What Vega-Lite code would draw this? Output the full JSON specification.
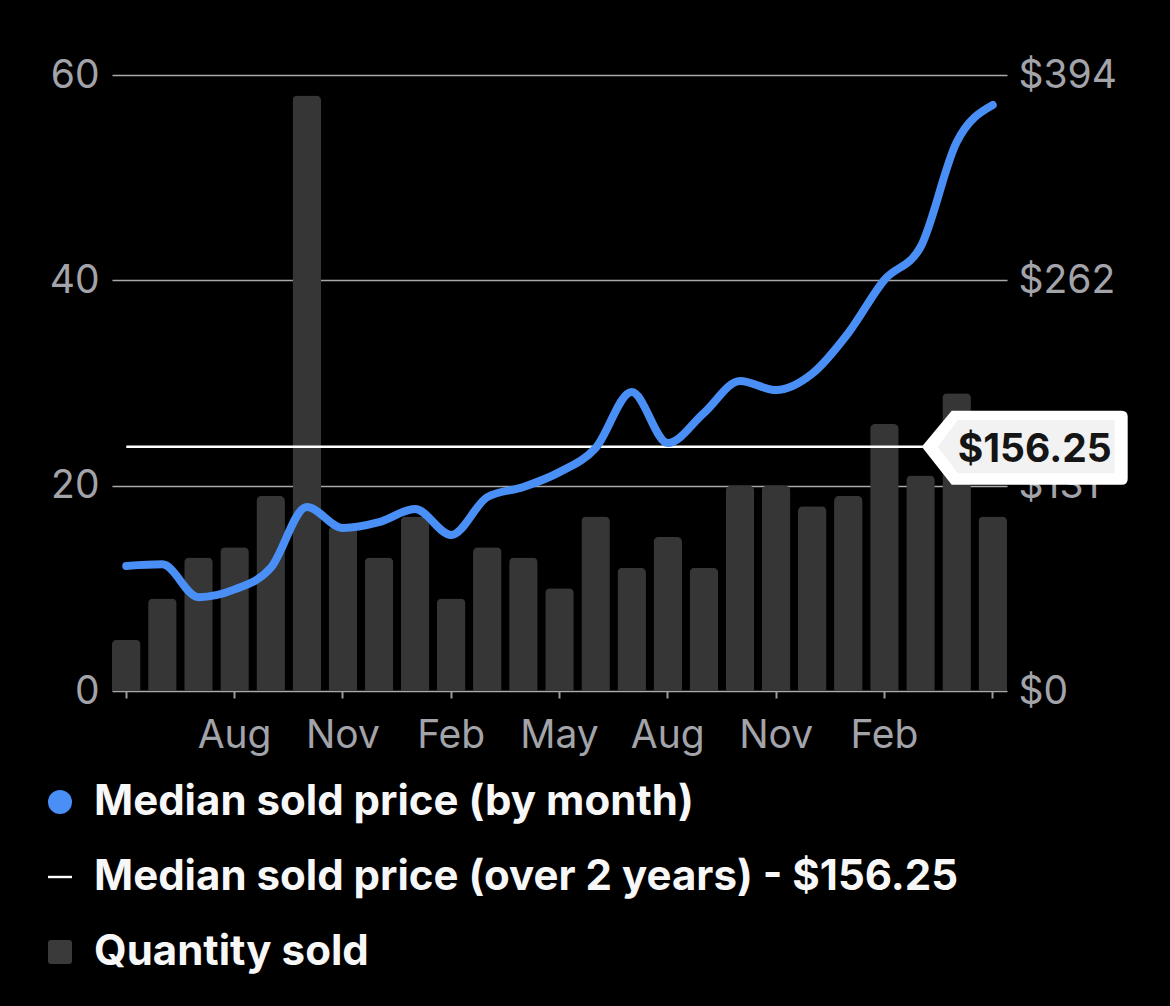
{
  "$schema": "https://vega.github.io/schema/vega-lite/v6.json",
  "autosize": "none",
  "width": 895,
  "height": 616,
  "padding": {"left": 112, "top": 75, "right": 163, "bottom": 315},
  "background": "#000000",
  "config": {"font": "Inter", "view": {"stroke": null}},
  "datasets": {
    "monthly": [
      {"month": "May 2022", "qty": 5, "price": 80},
      {"month": "Jun 2022", "qty": 9, "price": 81},
      {"month": "Jul 2022", "qty": 13, "price": 60},
      {"month": "Aug 2022", "qty": 14, "price": 65},
      {"month": "Sep 2022", "qty": 19, "price": 78.7},
      {"month": "Oct 2022", "qty": 58, "price": 117.7},
      {"month": "Nov 2022", "qty": 16, "price": 104.3},
      {"month": "Dec 2022", "qty": 13, "price": 108},
      {"month": "Jan 2023", "qty": 17, "price": 116.4},
      {"month": "Feb 2023", "qty": 9, "price": 99.8},
      {"month": "Mar 2023", "qty": 14, "price": 124},
      {"month": "Apr 2023", "qty": 13, "price": 130.5},
      {"month": "May 2023", "qty": 10, "price": 140},
      {"month": "Jun 2023", "qty": 17, "price": 155.4},
      {"month": "Jul 2023", "qty": 12, "price": 191.2},
      {"month": "Aug 2023", "qty": 15, "price": 158.6},
      {"month": "Sep 2023", "qty": 12, "price": 177.8},
      {"month": "Oct 2023", "qty": 20, "price": 198.3},
      {"month": "Nov 2023", "qty": 20, "price": 192.5},
      {"month": "Dec 2023", "qty": 18, "price": 203},
      {"month": "Jan 2024", "qty": 19, "price": 229},
      {"month": "Feb 2024", "qty": 26, "price": 263},
      {"month": "Mar 2024", "qty": 21, "price": 284},
      {"month": "Apr 2024", "qty": 29, "price": 351},
      {"month": "May 2024", "qty": 17, "price": 374.8}
    ],
    "overall": [
      {"month": "May 2024", "start": "May 2022", "end": "May 2024", "price": 156.25}
    ],
    "legend": [
      {"series": "Median sold price (by month)"},
      {"series": "Median sold price (over 2 years) - $156.25"},
      {"series": "Quantity sold"}
    ]
  },
  "layer": [
    {
      "data": {"name": "monthly"},
      "mark": {"type": "bar", "color": "#363636", "cornerRadiusTopLeft": 5, "cornerRadiusTopRight": 5},
      "encoding": {
        "x": {
          "field": "month", "type": "ordinal", "title": null,
          "scale": {
            "domain": ["May 2022","Jun 2022","Jul 2022","Aug 2022","Sep 2022","Oct 2022","Nov 2022","Dec 2022","Jan 2023","Feb 2023","Mar 2023","Apr 2023","May 2023","Jun 2023","Jul 2023","Aug 2023","Sep 2023","Oct 2023","Nov 2023","Dec 2023","Jan 2024","Feb 2024","Mar 2024","Apr 2024","May 2024"],
            "paddingInner": 0.21, "paddingOuter": 0
          },
          "axis": {
            "values": ["May 2022","Aug 2022","Nov 2022","Feb 2023","May 2023","Aug 2023","Nov 2023","Feb 2024","May 2024"],
            "labelExpr": "datum.value == 'May 2022' || datum.value == 'May 2024' ? '' : slice(datum.value, 0, 3)",
            "title": null, "domain": false, "grid": false,
            "ticks": true, "tickColor": "#9a9a9f", "tickSize": 7, "tickWidth": 2, "bandPosition": 0.5,
            "labelFontSize": 39, "labelColor": "#a3a3aa", "labelPadding": 18, "labelAngle": 0, "labelOverlap": false
          }
        },
        "y": {
          "field": "qty", "type": "quantitative", "title": null,
          "scale": {"domain": [0, 60], "nice": false},
          "axis": {
            "orient": "left", "values": [0, 20, 40, 60], "title": null, "domain": false, "ticks": false,
            "grid": true, "gridColor": "#a9a9ad", "gridWidth": 1.5,
            "labelFontSize": 39, "labelColor": "#a3a3aa", "labelPadding": 13
          }
        }
      }
    },
    {
      "layer": [
        {
          "data": {"name": "overall"},
          "mark": {"type": "rule", "color": "#ffffff", "strokeWidth": 2.5},
          "encoding": {
            "x": {"field": "start", "type": "ordinal", "title": null},
            "x2": {"field": "end"},
            "y": {"field": "price", "type": "quantitative", "title": null, "scale": {"domain": [0, 394], "nice": false}}
          }
        },
        {
          "data": {"name": "monthly"},
          "mark": {"type": "line", "color": "#4a8ff6", "strokeWidth": 8, "interpolate": "monotone", "strokeCap": "round"},
          "encoding": {
            "x": {"field": "month", "type": "ordinal", "title": null},
            "y": {
              "field": "price", "type": "quantitative", "title": null,
              "scale": {"domain": [0, 394], "nice": false},
              "axis": {
                "orient": "right", "values": [0, 131.333, 262.667, 394],
                "labelExpr": "'$' + floor(datum.value)",
                "title": null, "domain": false, "ticks": false, "grid": false,
                "labelFontSize": 39, "labelColor": "#a3a3aa", "labelPadding": 11
              }
            }
          }
        },
        {
          "data": {"name": "overall"},
          "mark": {
            "type": "point", "filled": true, "opacity": 1, "color": "#ffffff", "strokeWidth": 0, "size": 78400,
            "shape": "M-0.507,0L-0.293,-0.257L0.921,-0.257Q0.964,-0.257 0.964,-0.214L0.964,0.228Q0.964,0.271 0.921,0.271L-0.293,0.271Z"
          },
          "encoding": {
            "x": {"field": "month", "type": "ordinal", "title": null},
            "y": {"field": "price", "type": "quantitative", "title": null, "scale": {"domain": [0, 394], "nice": false}}
          }
        },
        {
          "data": {"name": "overall"},
          "mark": {
            "type": "point", "filled": true, "opacity": 1, "color": "#f2f2f2", "strokeWidth": 0, "size": 78400,
            "shape": "M-0.393,0L-0.25,-0.19L0.871,-0.19L0.871,0.19L-0.25,0.19Z"
          },
          "encoding": {
            "x": {"field": "month", "type": "ordinal", "title": null},
            "y": {"field": "price", "type": "quantitative", "title": null, "scale": {"domain": [0, 394], "nice": false}}
          }
        },
        {
          "data": {"name": "overall"},
          "mark": {"type": "text", "font": "Inter", "fontSize": 39, "fontWeight": "bold", "color": "#151515", "align": "center", "baseline": "alphabetic", "dx": 42, "dy": 15},
          "encoding": {
            "x": {"field": "month", "type": "ordinal", "title": null},
            "y": {"field": "price", "type": "quantitative", "title": null, "scale": {"domain": [0, 394], "nice": false}},
            "text": {"field": "price", "type": "quantitative", "format": "$.2f"}
          }
        }
      ]
    },
    {
      "data": {"name": "legend"},
      "mark": {"type": "point", "filled": true, "opacity": 0},
      "encoding": {
        "color": {
          "field": "series", "type": "nominal",
          "scale": {
            "domain": ["Median sold price (by month)", "Median sold price (over 2 years) - $156.25", "Quantity sold"],
            "range": ["#4a8ff6", "#ffffff", "#3a3a3a"]
          },
          "legend": {
            "orient": "none", "legendX": -73, "legendY": 706, "direction": "vertical", "title": null, "padding": 0,
            "labelFont": "Inter", "labelFontSize": 42, "labelFontWeight": "bold", "labelColor": "#f7f7f7", "labelLimit": 1200,
            "labelOffset": 13, "symbolSize": 576, "symbolOpacity": 1, "symbolStrokeWidth": 0, "rowPadding": 33
          }
        },
        "shape": {
          "field": "series", "type": "nominal",
          "scale": {
            "domain": ["Median sold price (by month)", "Median sold price (over 2 years) - $156.25", "Quantity sold"],
            "range": ["circle", "M-1,-0.1H1V0.1H-1Z", "M-0.75,-1H0.75Q1,-1 1,-0.75V0.75Q1,1 0.75,1H-0.75Q-1,1 -1,0.75V-0.75Q-1,-1 -0.75,-1Z"]
          },
          "legend": {
            "orient": "none", "legendX": -73, "legendY": 706, "direction": "vertical", "title": null, "padding": 0,
            "labelFont": "Inter", "labelFontSize": 42, "labelFontWeight": "bold", "labelColor": "#f7f7f7", "labelLimit": 1200,
            "labelOffset": 13, "symbolSize": 576, "symbolOpacity": 1, "symbolStrokeWidth": 0, "rowPadding": 33
          }
        }
      }
    }
  ],
  "resolve": {"scale": {"y": "independent"}}
}
